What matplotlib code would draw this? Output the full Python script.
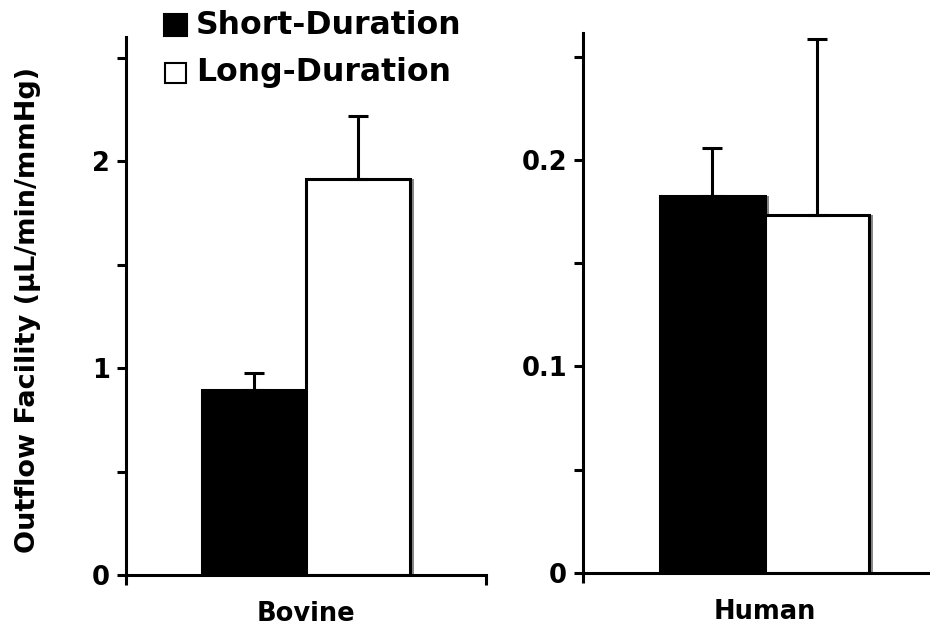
import matplotlib
matplotlib.use("Agg")
import matplotlib.pyplot as plt
from matplotlib.ticker import MultipleLocator, FixedLocator
from matplotlib.patches import Rectangle

panels = ["Bovine", "Human"]
series = ["Short-Duration", "Long-Duration"]
short_vals = [0.894, 0.1826]
short_err = [0.082, 0.0232]
long_vals = [1.913, 0.1734]
long_err = [0.304, 0.0852]
ylims = [2.6, 0.2615]
major_steps = [1.0, 0.1]
minor_steps = [0.5, 0.05]
ylabel = "Outflow Facility (µL/min/mmHg)"

plt.rcParams['font.family'] = ['DejaVu Sans']
plt.rcParams['font.weight'] = 'bold'

fig = plt.figure(figsize=(9.3, 6.33), dpi=100)
ax1 = fig.add_axes([126/930, 1-575/633, 360/930, (575-37)/633])
ax2 = fig.add_axes([583/930, 1-573/633, 350/930, (573-33)/633])
axes = [ax1, ax2]

W = 0.288
LW = 2.2
FS = 18.5
for i, ax in enumerate(axes):
    xs = -W/2
    xl = W/2
    sh = 0.012
    ax.bar([xs+sh], [short_vals[i]], width=W, color='#888888', edgecolor='none', zorder=1)
    ax.bar([xl+sh], [long_vals[i]], width=W, color='#888888', edgecolor='none', zorder=1)
    ax.bar([xs], [short_vals[i]], width=W, color='black', edgecolor='black', linewidth=LW,
           yerr=[[0], [short_err[i]]], error_kw=dict(ecolor='black', elinewidth=LW, capsize=7, capthick=LW),
           zorder=2, label=series[0])
    ax.bar([xl], [long_vals[i]], width=W, color='white', edgecolor='black', linewidth=LW,
           yerr=[[0], [long_err[i]]], error_kw=dict(ecolor='black', elinewidth=LW, capsize=7, capthick=LW),
           zorder=2, label=series[1])
    ax.set_ylim(0, ylims[i])
    ax.set_xlim(-0.5, 0.5 if i == 0 else 0.464)
    ax.yaxis.set_major_locator(MultipleLocator(major_steps[i]))
    ax.yaxis.set_minor_locator(MultipleLocator(minor_steps[i]))
    ax.yaxis.set_major_formatter(matplotlib.ticker.FuncFormatter(lambda v, p: "0" if v == 0 else f"{v:g}"))
    ax.tick_params(axis='y', which='both', direction='out', length=6.5, width=LW, labelsize=FS, pad=5)
    ax.set_xticks([0])
    ax.set_xticklabels([panels[i]])
    ax.tick_params(axis='x', which='major', length=0, labelsize=FS, pad=19)
    ax.xaxis.set_minor_locator(FixedLocator([-0.5, 0.5]))
    ax.tick_params(axis='x', which='minor', direction='out', length=7, width=LW)
    for t in ax.get_xticklabels() + ax.get_yticklabels():
        t.set_fontweight('bold')
    for s in ['top', 'right']:
        ax.spines[s].set_visible(False)
    for s in ['left', 'bottom']:
        ax.spines[s].set_linewidth(LW)
    ax.set_facecolor('none')

ax1.set_ylabel(ylabel, fontsize=19.5, fontweight='bold')
ax1.yaxis.set_label_coords(-(126-41)/360, (575-310)/(575-37))

# legend
fig.patches.append(Rectangle((164/930, 1-36/633), 23/930, 22/633, transform=fig.transFigure,
                             facecolor='black', edgecolor='black', linewidth=1.5))
fig.patches.append(Rectangle((165/930, 1-83/633), 21/930, 20/633, transform=fig.transFigure,
                             facecolor='white', edgecolor='black', linewidth=1.5))
fig.text(196/930, 1-25/633, series[0], fontsize=22.7, ha='left', va='center', fontweight='bold')
fig.text(196/930, 1-72/633, series[1], fontsize=22.7, ha='left', va='center', fontweight='bold')

fig.savefig("out.png", dpi=100)
